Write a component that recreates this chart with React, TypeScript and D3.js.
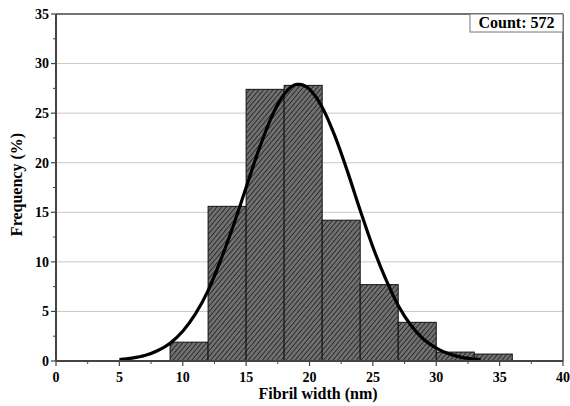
import React from "react";
import * as d3 from "d3";

const binStarts = [9, 12, 15, 18, 21, 24, 27, 30, 33];
const binWidth = 3;
const binFreq = [1.9, 15.6, 27.4, 27.8, 14.2, 7.7, 3.9, 0.9, 0.7];

const fitX = [5, 6, 7, 8, 9, 10, 11, 12, 13, 14, 15, 16, 17, 18, 19, 19.2, 20, 21, 22, 23, 24, 25, 26, 27, 28, 29, 30, 31, 32, 33, 33.5];
const fitY = [0.14, 0.29, 0.55, 1.03, 1.8, 3.0, 4.75, 7.1, 10.2, 13.7, 17.5, 21.3, 24.6, 26.9, 27.9, 27.9, 27.4, 25.6, 22.7, 19.1, 15.2, 11.5, 8.3, 5.6, 3.6, 2.2, 1.3, 0.72, 0.37, 0.19, 0.13];

const xTicks = [0, 5, 10, 15, 20, 25, 30, 35, 40];
const yTicks = [0, 5, 10, 15, 20, 25, 30, 35];
const countLabel = "Count: 572";

const W = 570, H = 406;
const L = 56, R = 563, T = 14, B = 361;

export default function App() {
  const x = d3.scaleLinear().domain([0, 40]).range([L, R]);
  const y = d3.scaleLinear().domain([0, 35]).range([B, T]);
  const line = d3.line<number>().x((_, i) => x(fitX[i])).y((d) => y(d)).curve(d3.curveMonotoneX);
  const minorX = d3.range(2.5, 40, 5);
  const minorY = d3.range(2.5, 35, 5);
  const font = "'Liberation Serif', 'Times New Roman', serif";
  return (
    <svg width={W} height={H} style={{ position: "absolute", left: 0, top: 0, background: "#fff" }} fontFamily={font}>
      <defs>
        <pattern id="hatch" patternUnits="userSpaceOnUse" width={3.6} height={3.6} patternTransform="rotate(40)">
          <rect width={3.6} height={3.6} fill="#707070" />
          <line x1={0} y1={0} x2={0} y2={3.6} stroke="#1a1a1a" strokeWidth={1.5} />
        </pattern>
      </defs>
      {yTicks.filter((t) => t > 0 && t < 35).map((t) => (
        <line key={"g" + t} x1={L} x2={R} y1={y(t)} y2={y(t)} stroke="#c8c8c8" strokeWidth={1} />
      ))}
      {binStarts.map((s, i) => (
        <rect key={"b" + i} x={x(s)} y={y(binFreq[i])} width={x(s + binWidth) - x(s)} height={y(0) - y(binFreq[i])}
          fill="url(#hatch)" stroke="#111" strokeWidth={1} />
      ))}
      <path d={line(fitY) || ""} fill="none" stroke="#000" strokeWidth={3.2} />
      <line x1={L} x2={R} y1={T} y2={T} stroke="#444" strokeWidth={1.5} />
      <line x1={R} x2={R} y1={T} y2={B} stroke="#444" strokeWidth={1.5} />
      <line x1={L} x2={L} y1={T} y2={B} stroke="#444" strokeWidth={2} />
      <line x1={L} x2={R} y1={B} y2={B} stroke="#444" strokeWidth={2} />
      {yTicks.map((t) => (
        <g key={"yt" + t}>
          <line x1={L - 5} x2={L} y1={y(t)} y2={y(t)} stroke="#444" strokeWidth={1.2} />
          <text x={L - 7} y={y(t)} dy="0.35em" textAnchor="end" fontSize={14} fontWeight="bold">{t}</text>
        </g>
      ))}
      {minorY.map((t) => (
        <line key={"ym" + t} x1={L - 3} x2={L} y1={y(t)} y2={y(t)} stroke="#444" strokeWidth={1} />
      ))}
      {xTicks.map((t) => (
        <g key={"xt" + t}>
          <line x1={x(t)} x2={x(t)} y1={B} y2={B + 5} stroke="#444" strokeWidth={1.2} />
          <text x={x(t)} y={B + 21} textAnchor="middle" fontSize={14} fontWeight="bold">{t}</text>
        </g>
      ))}
      {minorX.map((t) => (
        <line key={"xm" + t} x1={x(t)} x2={x(t)} y1={B} y2={B + 3} stroke="#444" strokeWidth={1} />
      ))}
      <text x={318} y={399} textAnchor="middle" fontSize={16} fontWeight="bold">Fibril width (nm)</text>
      <text transform={`translate(22,${(T + B) / 2 - 3}) rotate(-90)`} textAnchor="middle" fontSize={16} fontWeight="bold">Frequency (%)</text>
      <rect x={470} y={T} width={R - 470} height={18} fill="#fff" stroke="#777" strokeWidth={1} />
      <text x={(470 + R) / 2} y={T + 14} textAnchor="middle" fontSize={16} fontWeight="bold">{countLabel}</text>
    </svg>
  );
}
